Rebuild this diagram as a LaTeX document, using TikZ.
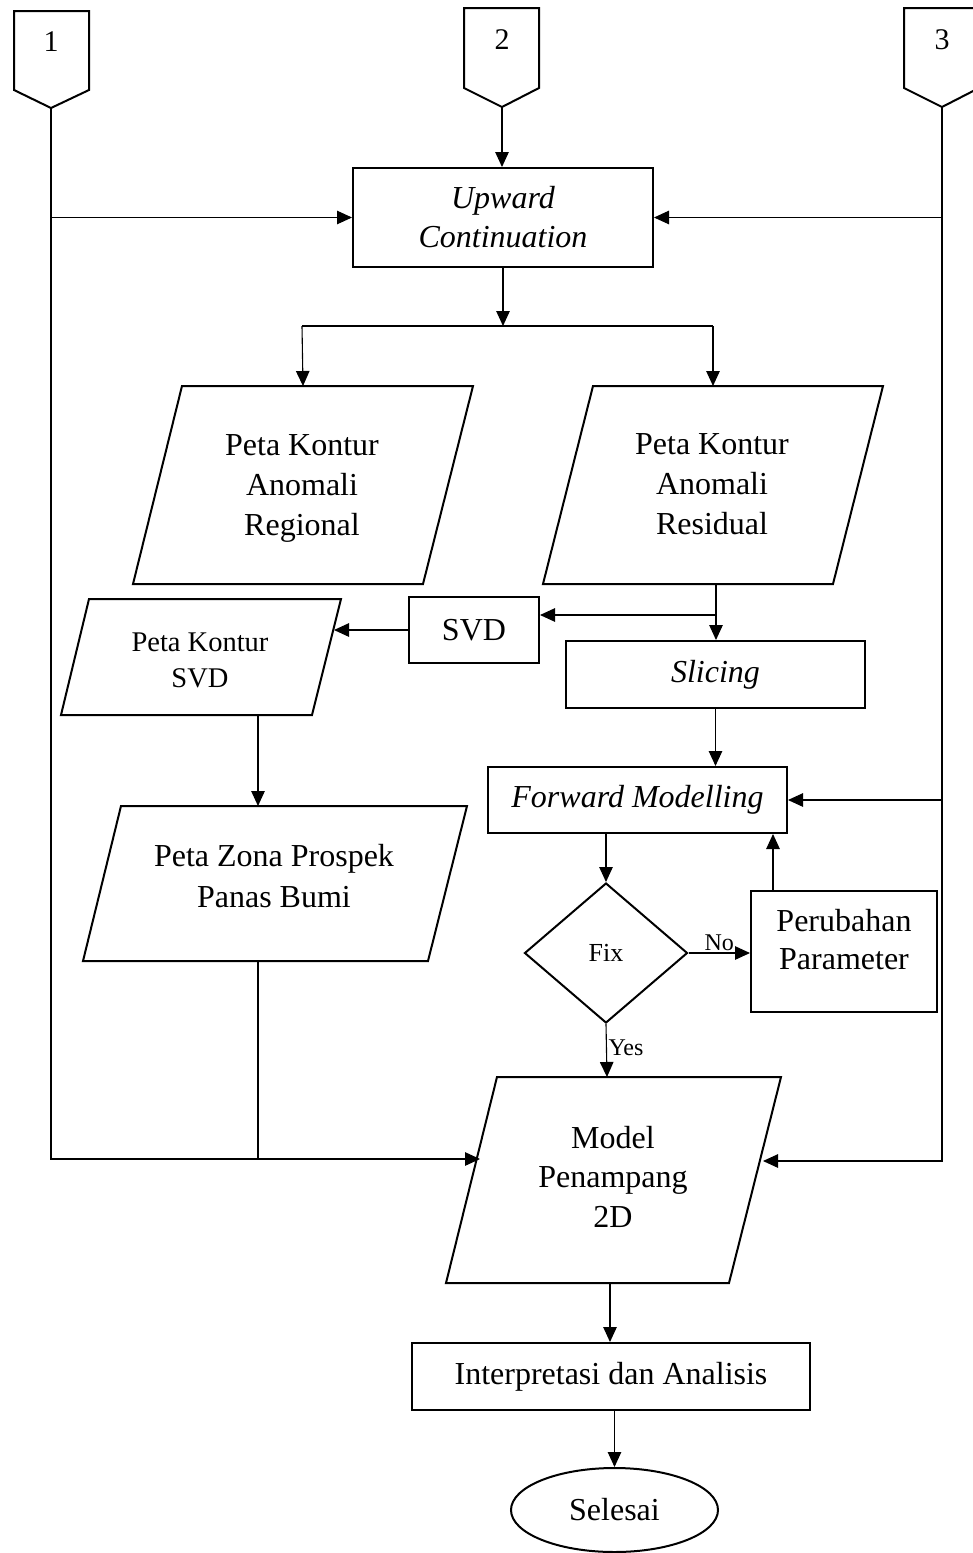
\documentclass[tikz,border=0pt]{standalone}
\usepackage{fontspec}
\setmainfont{Liberation Serif}
\usetikzlibrary{arrows.meta,shapes.geometric,calc}
\tikzset{
  shp/.style={draw,line width=2pt,line join=miter},
  boxnode/.style={shp,inner sep=0pt,align=center},
  con/.style={line width=1.1pt},
  arr/.style={con,-{Triangle[length=15pt,width=13.5pt]}},
  big/.style={font=\fontsize{32}{40}\selectfont,align=center},
  bigit/.style={font=\fontsize{32}{39}\selectfont\itshape,align=center},
  small/.style={font=\fontsize{24}{28}\selectfont,inner sep=1.5pt},
}
\begin{document}
\begin{tikzpicture}[x=1pt,y=-1pt]
\useasboundingbox (0,0) rectangle (973,1553);

% off-page connectors
\draw[shp] (14,11) -- (89,11) -- (89,90) -- (51,108) -- (14,90) -- cycle;
\node[font=\fontsize{30}{36}\selectfont] (n1) at (51,42) {1};
\draw[shp] (464,8) -- (539,8) -- (539,88) -- (502,107) -- (464,88) -- cycle;
\node[font=\fontsize{30}{36}\selectfont] (n2) at (502,40) {2};
\draw[shp] (904,8) -- (979,8) -- (979,88) -- (942,107) -- (904,88) -- cycle;
\node[font=\fontsize{30}{36}\selectfont] (n3) at (942,40) {3};
\coordinate (p1) at (51,108);
\coordinate (p2) at (502,107);
\coordinate (p3) at (942,107);

% boxes
\node[boxnode,bigit,minimum width=300pt,minimum height=99pt] (uc) at (503,217.5) {Upward\\Continuation};
\node[boxnode,big,minimum width=130pt,minimum height=66pt] (svd) at (474,630) {SVD};
\node[boxnode,bigit,minimum width=299pt,minimum height=67pt] (sl) at (715.5,674.5) {Slicing};
\node[boxnode,bigit,minimum width=299pt,minimum height=66pt] (fm) at (637.5,800) {Forward Modelling};
\node[boxnode,minimum width=186pt,minimum height=121pt] (pp) at (844,951.5) {};
\node[font=\fontsize{32}{38}\selectfont,align=center] (ppt) at (844,940) {Perubahan\\Parameter};
\node[shp,diamond,inner sep=0pt,minimum width=163pt,minimum height=140pt,font=\fontsize{26}{30}\selectfont] (fix) at (606,953) {Fix};
\node[boxnode,big,minimum width=398pt,minimum height=67pt] (ia) at (611,1376.5) {Interpretasi dan Analisis};
\node[shp,ellipse,inner sep=0pt,minimum width=207pt,minimum height=84pt,big] (se) at (614.5,1510) {Selesai};

% parallelograms
\draw[shp] (182,386) -- (473,386) -- (423,584) -- (133,584) -- cycle;
\node[big] (rg) at (302,488) {Peta Kontur\\Anomali\\Regional};
\draw[shp] (593,386) -- (883,386) -- (833,584) -- (543,584) -- cycle;
\node[big] (rs) at (712,484.5) {Peta Kontur\\Anomali\\Residual};
\draw[shp] (89,599) -- (341,599) -- (312,715) -- (61,715) -- cycle;
\node[font=\fontsize{28.5}{36}\selectfont,align=center] (ps) at (200,660.5) {Peta Kontur\\SVD};
\draw[shp] (121,806) -- (467,806) -- (428,961) -- (83,961) -- cycle;
\node[font=\fontsize{32}{41}\selectfont,align=center] (zn) at (274,876) {Peta Zona Prospek\\Panas Bumi};
\draw[shp] (497,1077) -- (781,1077) -- (729,1283) -- (446,1283) -- cycle;
\node[font=\fontsize{32}{39.5}\selectfont,align=center] (md) at (613,1176.5) {Model\\Penampang\\2D};

% connector end points on parallelograms
\coordinate (rgTop) at (303,386);
\coordinate (rsTop) at (713,386);
\coordinate (rsBot) at (716,584);
\coordinate (rsJ) at (716,615);
\coordinate (psR) at (334,630);
\coordinate (psBot) at (258,715);
\coordinate (znTop) at (258,806);
\coordinate (znBot) at (258,961);
\coordinate (mdTop) at (607,1077);
\coordinate (mdBot) at (610,1283);
\coordinate (mdL) at (480,1159);
\coordinate (mdR) at (763,1161);
\coordinate (sL) at (302,326);
\coordinate (sR) at (713,326);
\coordinate (sM) at (503,326);
\coordinate (ppT) at (773,891);

% connectors
\draw[arr] (p1) |- (mdL);
\draw[arr] (p1 |- uc.west) -- (uc.west);
\draw[arr] (p3) |- (mdR);
\draw[arr] (p3 |- uc.east) -- (uc.east);
\draw[arr] (p3 |- fm.east) -- (fm.east);
\draw[arr] (p2) -- (p2 |- uc.north);
\draw[arr] (uc.south) -- (sM);
\draw[con] (sL) -- (sR);
\draw[arr] (sL) -- (rgTop);
\draw[arr] (sR) -- (rsTop);
\draw[arr] (rsBot) -- (rsBot |- sl.north);
\draw[arr] (rsJ) -- (rsJ -| svd.east);
\draw[arr] (svd.west) -- (psR);
\draw[arr] (psBot) -- (znTop);
\draw[con] (znBot) -- (znBot |- mdL);
\draw[arr] (sl.south) -- (sl.south |- fm.north);
\draw[arr] (fm.south -| fix.north) -- (fix.north);
\draw[arr] (fix.east) -- (fix.east -| pp.west) node[small,midway,above] (no) {No};
\draw[arr] (ppT) -- (ppT |- fm.south);
\draw[arr] (fix.south) -- (mdTop) node[small,pos=0.45,right] (yes) {Yes};
\draw[arr] (mdBot) -- (mdBot |- ia.north);
\draw[arr] (ia.south -| se.north) -- (se.north);
\end{tikzpicture}
\end{document}
